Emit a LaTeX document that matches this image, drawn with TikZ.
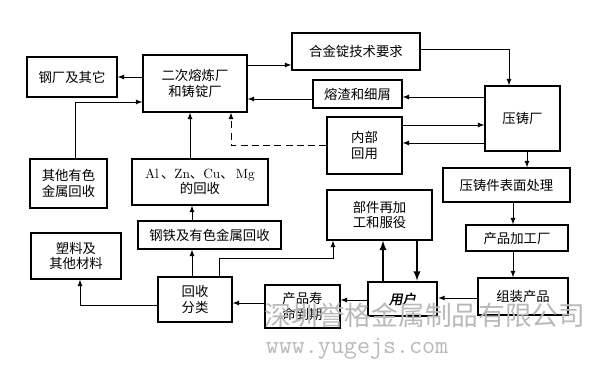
\documentclass[tikz,border=0pt]{standalone}
\usepackage{fontspec}
\newfontfamily\cjk{Noto Sans CJK SC}
\newfontfamily\cjkuser[FakeSlant=0.2,FakeBold=2]{Noto Sans CJK SC}
\tikzset{
  >=latex,
  box/.style={draw, line width=0.9pt, inner sep=0pt, align=center,
    font=\cjk\fontsize{9.5}{11}\selectfont},
  flow/.style={->, line width=0.6pt},
  wm/.style={text=gray!55, inner sep=0pt}
}
\begin{document}
\begin{tikzpicture}[x=0.025cm,y=-0.025cm]
\useasboundingbox (0,0) rectangle (600,373);
% boxes
\node[box, minimum width=2.25cm, minimum height=1.0cm] (gangchang) at (72,77) {钢厂及其它};
\node[box, minimum width=2.6cm, minimum height=1.425cm] (erci) at (195,83.5) {二次熔炼厂\\和铸锭厂};
\node[box, minimum width=3.2cm, minimum height=0.925cm] (hejin) at (356,51.5) {合金锭技术要求};
\node[box, minimum width=2.225cm, minimum height=0.7cm] (zhazha) at (357.5,94) {熔渣和细屑};
\node[box, minimum width=1.875cm, minimum height=1.625cm] (yazhu) at (522.5,118.5) {压铸厂};
\node[box, minimum width=1.875cm, minimum height=1.425cm] (neibu) at (364.5,145.5) {内部\\回用};
\node[box, minimum width=1.925cm, minimum height=1.225cm] (qita) at (68.5,183.5) {其他有色\\金属回收};
\node[box, minimum width=3.4cm, minimum height=1.15cm] (al) at (200,182) {\rmfamily Al\,{\cjk 、}Zn{\cjk 、}Cu{\cjk 、}\,Mg\\的回收};
\node[box, minimum width=3.175cm, minimum height=0.85cm] (biaomian) at (506.5,185) {压铸件表面处理};
\node[box, minimum width=3.575cm, minimum height=0.7cm] (gangtie) at (209.5,235) {钢铁及有色金属回收};
\node[box, minimum width=2.625cm, minimum height=1.25cm] (bujian) at (379.5,215) {部件再加\\工和服役};
\node[box, minimum width=2.55cm, minimum height=0.65cm] (jiagong) at (517,238) {产品加工厂};
\node[box, minimum width=2.25cm, minimum height=1.15cm] (suliao) at (76,256) {塑料及\\其他材料};
\node[box, minimum width=1.85cm, minimum height=1.125cm] (huishou) at (195,299.5) {回收\\分类};
\node[box, minimum width=1.875cm, minimum height=1.075cm] (shouming) at (302.5,306.5) {产品寿\\命到期};
\node[box, line width=1.8pt, minimum width=1.725cm, minimum height=0.85cm, font=\cjkuser\fontsize{9.5}{11}\selectfont] (yonghu) at (402.5,299) {用户};
\node[box, minimum width=2.25cm, minimum height=0.925cm] (zuzhuang) at (523,296.5) {组装产品};
% connectors
\draw[flow] (erci.west |- gangchang) -- (gangchang.east);
\draw[flow] (erci.east |- 0,65) -- (hejin.west |- 0,65);
\draw[flow] (hejin.east |- 0,49) -| (509,0 |- yazhu.north);
\draw[flow] (yazhu.west |- 0,97) -- (zhazha.east |- 0,97);
\draw[flow] (zhazha.west |- 0,99) -- (erci.east |- 0,99);
\draw[flow] (neibu.east |- 0,125) -- (yazhu.west |- 0,125);
\draw[flow] (yazhu.west |- 0,143) -- (neibu.east |- 0,143);
\draw[flow, dashed, dash pattern=on 5pt off 3pt] (neibu.west) -| (231,0 |- erci.south);
\draw[flow] (75,0 |- qita.north) |- (erci.west |- 0,102);
\draw[flow] (190,0 |- al.north) -- (190,0 |- erci.south);
\draw[flow] (192,0 |- gangtie.north) -- (192,0 |- al.south);
\draw[flow] (192,0 |- huishou.north) -- (192,0 |- gangtie.south);
\draw[flow] (huishou.west |- 0,305) -| (80,0 |- suliao.south);
\draw[flow] (219,0 |- huishou.north) -- (219,258) -| (333,0 |- bujian.south);
\draw[flow, line width=1.3pt] (383,0 |- yonghu.north) -- (383,0 |- bujian.south);
\draw[flow, line width=1.3pt] (417,0 |- bujian.south) -- (417,0 |- yonghu.north);
\draw[flow] (yonghu.west |- 0,300) -- (shouming.east |- 0,300);
\draw[flow] (shouming.west |- 0,303) -- (huishou.east |- 0,303);
\draw[flow] (zuzhuang.west |- 0,298) -- (yonghu.east |- 0,298);
\draw[flow] (527,0 |- yazhu.south) -- (527,0 |- biaomian.north);
\draw[flow] (513,0 |- biaomian.south) -- (513,0 |- jiagong.north);
\draw[flow] (513,0 |- jiagong.south) -- (513,0 |- zuzhuang.north);
% watermark
\node[wm, font=\cjk\fontsize{19}{20}\selectfont] (wmname) at (425,315) {深圳誉格金属制品有限公司};
\node[wm, font=\ttfamily\fontsize{18}{20}\selectfont] (wmurl) at (357,349) {www.yugejs.com};
\end{tikzpicture}
\end{document}
